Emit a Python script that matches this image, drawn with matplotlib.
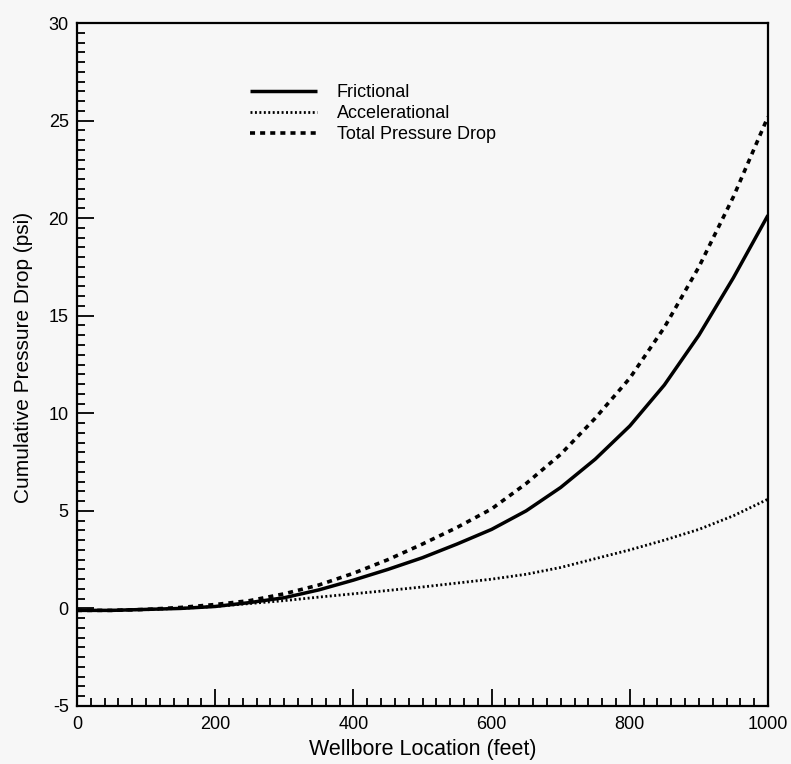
import matplotlib
matplotlib.use("Agg")
import matplotlib.pyplot as plt
from matplotlib.ticker import MultipleLocator

plt.rcParams['font.family'] = ['Liberation Sans', 'DejaVu Sans']
plt.rcParams['axes.unicode_minus'] = False

# Wellbore location (feet)
location = [0, 50, 100, 150, 200, 250, 300, 350, 400, 450, 500,
            550, 600, 650, 700, 750, 800, 850, 900, 950, 1000]

# Cumulative pressure drop components (psi)
frictional = [-0.1, -0.1, -0.05, 0.0, 0.1, 0.3, 0.55, 0.95, 1.45, 2.0, 2.6,
              3.3, 4.05, 5.0, 6.2, 7.65, 9.35, 11.45, 14.0, 16.95, 20.15]
accelerational = [-0.1, -0.1, -0.05, 0.0, 0.1, 0.25, 0.4, 0.58, 0.75, 0.92, 1.1,
                  1.3, 1.5, 1.75, 2.1, 2.55, 3.0, 3.5, 4.05, 4.75, 5.6]
total = [-0.1, -0.1, -0.05, 0.05, 0.2, 0.4, 0.75, 1.2, 1.8, 2.5, 3.3,
         4.15, 5.1, 6.4, 7.9, 9.75, 11.8, 14.4, 17.5, 21.1, 25.2]

labels = ["Frictional", "Accelerational", "Total Pressure Drop"]

bg = '#f7f7f7'
fig = plt.figure(figsize=(7.91, 7.64), dpi=100, facecolor=bg)
ax = fig.add_axes([77 / 791, 58 / 764, 691 / 791, 683 / 764], facecolor=bg)

ax.plot(location, frictional, color='black', lw=2.5, solid_capstyle='butt',
        solid_joinstyle='round', label=labels[0])
ax.plot(location, accelerational, color='black', lw=2.0,
        linestyle=(0, (0.7, 0.9)), label=labels[1])
ax.plot(location, total, color='black', lw=2.6,
        linestyle=(0, (1.4, 1.4)), label=labels[2])

ax.set_xlim(0, 1000)
ax.set_ylim(-5, 30)
ax.xaxis.set_major_locator(MultipleLocator(200))
ax.xaxis.set_minor_locator(MultipleLocator(20))
ax.yaxis.set_major_locator(MultipleLocator(5))
ax.yaxis.set_minor_locator(MultipleLocator(0.5))

ax.tick_params(which='both', direction='in', top=False, right=False,
               width=1.3, color='black', labelsize=13)
ax.tick_params(which='major', length=12)
ax.tick_params(which='minor', length=6)
ax.tick_params(axis='x', which='major', pad=7)
ax.tick_params(axis='y', which='major', pad=6)

for sp in ax.spines.values():
    sp.set_linewidth(1.6)
    sp.set_color('black')

ax.set_xlabel("Wellbore Location (feet)", fontsize=15.5)
ax.set_ylabel("Cumulative Pressure Drop (psi)", fontsize=15)
ax.xaxis.set_label_coords(0.5, -0.049)
ax.yaxis.set_label_coords(-0.064, 0.511)

ax.legend(loc='upper left', bbox_to_anchor=(0.2504, 0.910), frameon=False,
          fontsize=13, handlelength=3.7, handletextpad=1.1,
          labelspacing=0.22, borderpad=0, borderaxespad=0)

fig.savefig("out.png", dpi=100, facecolor=bg)
